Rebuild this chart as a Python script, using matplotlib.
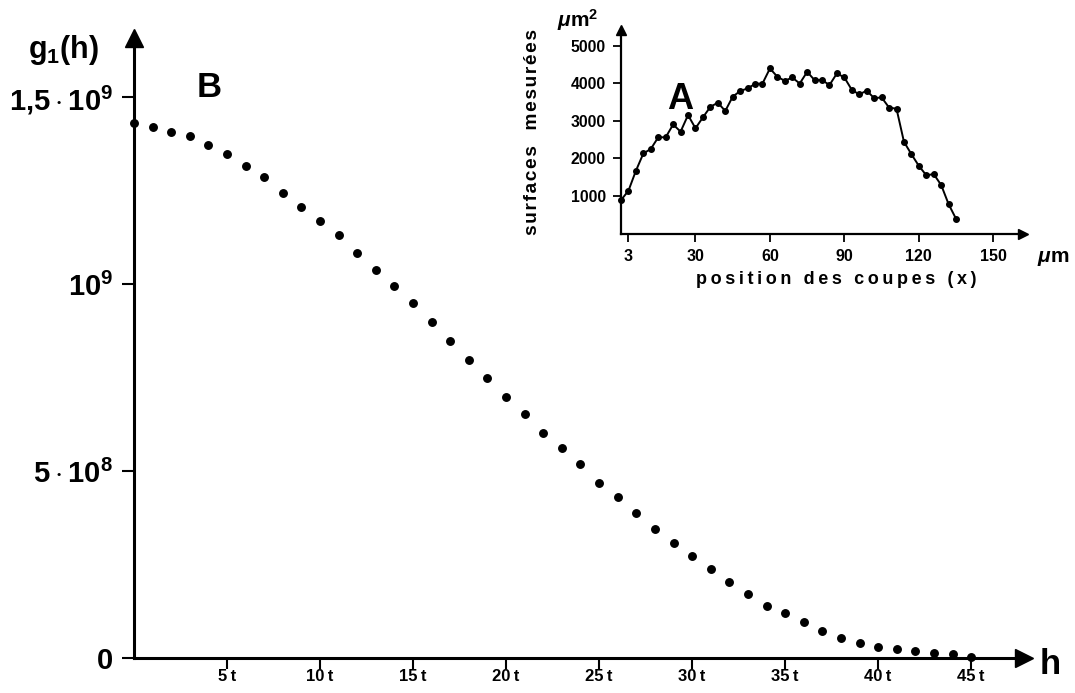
import matplotlib
matplotlib.use("Agg")
import matplotlib.pyplot as plt
import numpy as np

plt.rcParams['font.family'] = ['Liberation Sans', 'DejaVu Sans']
plt.rcParams['font.weight'] = 'bold'
plt.rcParams['mathtext.fontset'] = 'custom'
plt.rcParams['mathtext.rm'] = 'Liberation Sans:bold'
plt.rcParams['mathtext.bf'] = 'Liberation Sans:bold'
plt.rcParams['mathtext.it'] = 'Liberation Sans:italic:bold'

# main plot (B): g1(h) for h = 0..45 t, in units of 1e9
h = np.arange(0, 46)
g1 = [1.430, 1.420, 1.406, 1.396, 1.371, 1.348, 1.316, 1.286, 1.243, 1.207,
      1.168, 1.130, 1.083, 1.038, 0.995, 0.949, 0.898, 0.848, 0.798, 0.749,
      0.699, 0.652, 0.603, 0.561, 0.518, 0.469, 0.430, 0.388, 0.346, 0.307,
      0.272, 0.237, 0.202, 0.172, 0.140, 0.1195, 0.0955, 0.073, 0.054, 0.039,
      0.030, 0.024, 0.019, 0.0126, 0.010, 0.0035]
h_ticks = [5, 10, 15, 20, 25, 30, 35, 40, 45]
h_labels = ["5\u2009t", "10\u2009t", "15\u2009t", "20\u2009t", "25\u2009t",
            "30\u2009t", "35\u2009t", "40\u2009t", "45\u2009t"]
g_ticks = [0, 0.5, 1.0, 1.5]
g_labels = ["0", r"$5\cdot10^8$", r"$10^9$", r"$1{,}5\cdot10^9$"]

# inset (A): measured surfaces vs section position
pos = np.arange(0, 136, 3)
surf = [890, 1140, 1670, 2130, 2250, 2560, 2560, 2900, 2710, 3150,
        2800, 3090, 3370, 3480, 3260, 3640, 3790, 3860, 3980, 3990,
        4390, 4170, 4060, 4150, 3990, 4300, 4080, 4080, 3950, 4260,
        4150, 3820, 3700, 3800, 3600, 3620, 3350, 3320, 2440, 2110,
        1800, 1550, 1580, 1290, 780, 390]
pos_ticks = [3, 30, 60, 90, 120, 150]
surf_ticks = [1000, 2000, 3000, 4000, 5000]


def spaced(text, sep="\u200a"):
    # letter-spacing, as in the typeset original
    return sep.join(text)


fig = plt.figure(figsize=(10.75, 6.93), dpi=100)

ax = fig.add_axes([0.1247, 0.0505, 0.828, 0.8947])
ax.plot(h, g1, "o", color="black", markersize=5.4, clip_on=False)
ax.set_xlim(0, 47.85)
ax.set_ylim(0, 1.658)
for s in ["top", "right"]:
    ax.spines[s].set_visible(False)
for s in ["left", "bottom"]:
    ax.spines[s].set_linewidth(2.2)
ax.plot(1, 0, ">k", markersize=13, transform=ax.transAxes, clip_on=False)
ax.plot(0, 1, "^k", markersize=13, transform=ax.transAxes, clip_on=False)
ax.set_xticks(h_ticks)
ax.set_xticklabels(h_labels, fontsize=12, fontweight="bold")
ax.set_yticks(g_ticks)
ax.set_yticklabels(g_labels, fontsize=21, fontweight="bold")
ax.tick_params(axis="x", length=8, width=1.5, pad=0)
ax.tick_params(axis="y", length=9, width=1.5, pad=6)
fig.text(0.026, 0.916, r"$\mathrm{g_1(h)}$", fontsize=22)
fig.text(0.967, 0.027, "h", fontsize=25, fontweight="bold")
fig.text(0.183, 0.86, "B", fontsize=25, fontweight="bold")

ins = fig.add_axes([0.5777, 0.663, 0.374, 0.293])
ins.plot(pos, surf, "-o", color="black", linewidth=1.4, markersize=4, clip_on=False)
ins.set_xlim(0, 162)
ins.set_ylim(0, 5400)
for s in ["top", "right"]:
    ins.spines[s].set_visible(False)
for s in ["left", "bottom"]:
    ins.spines[s].set_linewidth(1.6)
ins.plot(1, 0, ">k", markersize=7, transform=ins.transAxes, clip_on=False)
ins.plot(0, 1, "^k", markersize=7, transform=ins.transAxes, clip_on=False)
ins.set_xticks(pos_ticks)
ins.set_xticklabels([str(p) for p in pos_ticks], fontsize=11.5, fontweight="bold")
ins.set_yticks(surf_ticks)
ins.set_yticklabels([str(s) for s in surf_ticks], fontsize=11.3, fontweight="bold")
ins.tick_params(axis="x", length=6, width=1.3, pad=5)
ins.tick_params(axis="y", length=6, width=1.3, pad=5)
ins.set_xlabel(spaced("position des coupes (x)", "\u2009"), fontsize=13,
               fontweight="bold")
ins.xaxis.set_label_coords(0.535, -0.185)
ins.set_ylabel(spaced("surfaces  mesurées"), fontsize=13.8,
               fontweight="bold", labelpad=21)
fig.text(0.518, 0.962, r"$\mu\mathrm{m^2}$", fontsize=15)
fig.text(0.965, 0.622, r"$\mu\mathrm{m}$", fontsize=15)
fig.text(0.621, 0.843, "A", fontsize=26, fontweight="bold")

fig.savefig("out.png", dpi=100)
